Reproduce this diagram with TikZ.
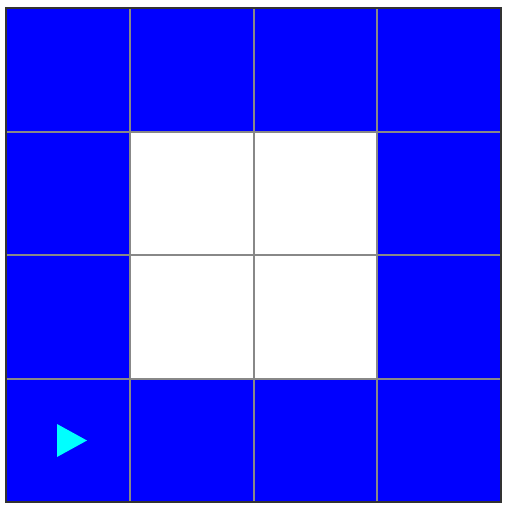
\documentclass[tikz,border=0pt]{standalone}
\begin{document}
\begin{tikzpicture}[x=0.75pt,y=-0.75pt,
  wall/.style={fill={rgb,255:red,0;green,0;blue,255}},
  agent/.style={fill={rgb,255:red,0;green,255;blue,255}},
  gridline/.style={draw={rgb,255:red,136;green,136;blue,136},line width=1.5pt},
  border/.style={draw={rgb,255:red,51;green,51;blue,51},line width=1.6pt}]
\useasboundingbox[fill=white] (0,0) rectangle (509,511);
\def\xa{6}\def\xb{129.75}\def\xc{253.5}\def\xd{377.25}\def\xe{501}
\def\ya{8}\def\yb{131.5}\def\yc{255}\def\yd{378.5}\def\ye{502}
% blue outer ring
\fill[wall] (\xa,\ya) rectangle (\xe,\ye);
\fill[white] (\xb,\yb) rectangle (\xd,\yd);
% grid lines
\foreach \x in {\xb,\xc,\xd} \draw[gridline] (\x,\ya) -- (\x,\ye);
\foreach \y in {\yb,\yc,\yd} \draw[gridline] (\xa,\y) -- (\xe,\y);
% border
\draw[border] (\xa,\ya) rectangle (\xe,\ye);
% agent
\fill[agent] (57,424) -- (87,440.5) -- (57,457) -- cycle;
\end{tikzpicture}
\end{document}
